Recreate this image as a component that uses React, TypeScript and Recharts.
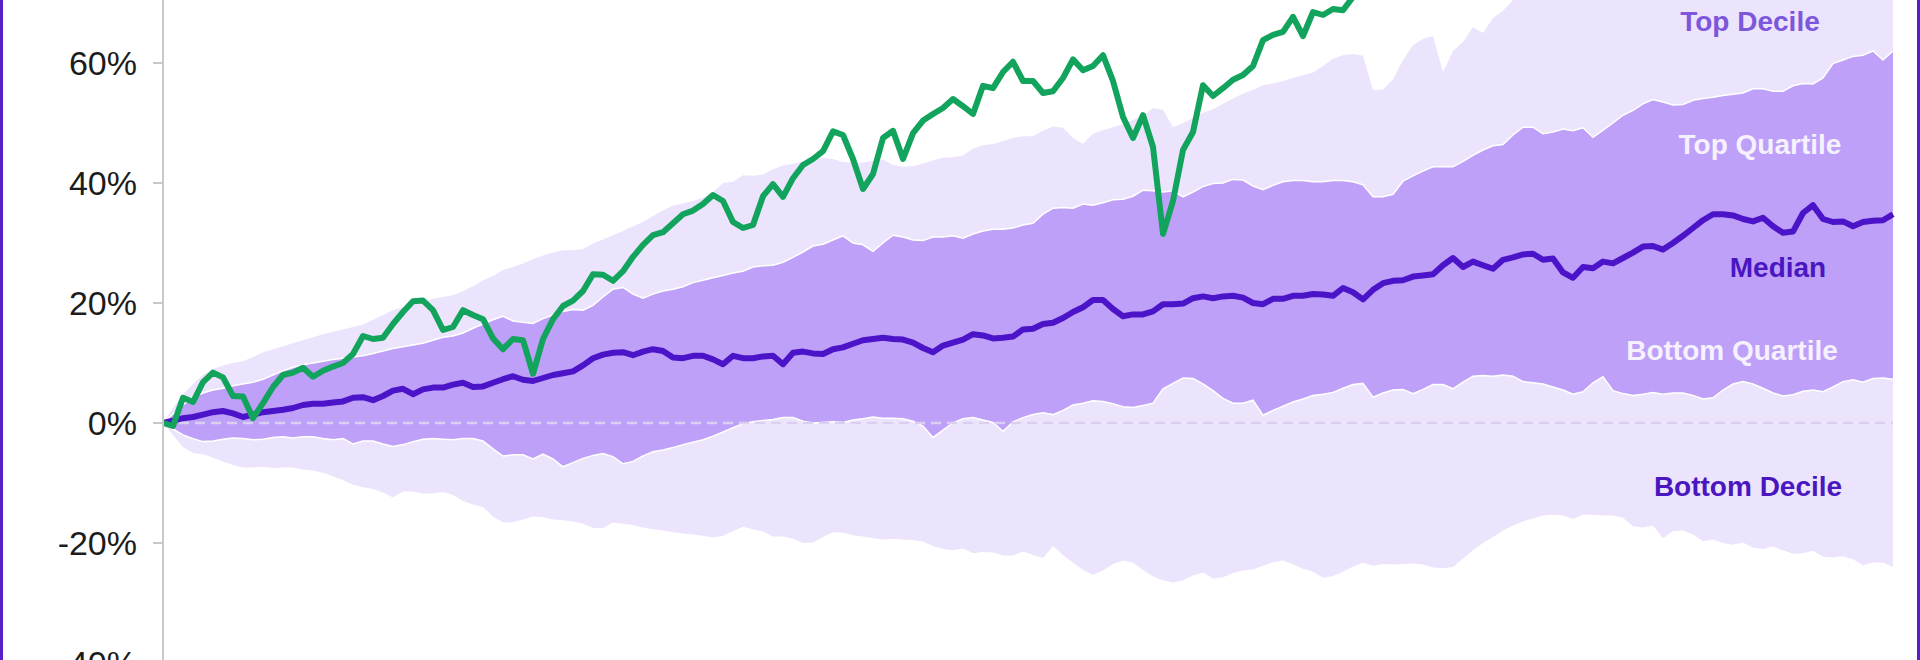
import { ComposedChart, Area, Line, XAxis, YAxis, ReferenceLine, ReferenceDot } from 'recharts';

// cumulative return (%), one sample per step, 174 steps across the period
const median = [
  0, 0.4, 0.8, 1.0, 1.4, 1.8, 2.0, 1.6, 1.0, 1.4,
  1.8, 2.0, 2.2, 2.5, 3.0, 3.2, 3.2, 3.4, 3.6, 4.2,
  4.3, 3.8, 4.5, 5.4, 5.7, 4.8, 5.6, 5.9, 5.9, 6.4,
  6.7, 6.0, 6.1, 6.7, 7.3, 7.8, 7.2, 7.0, 7.5, 8.0,
  8.3, 8.6, 9.6, 10.8, 11.4, 11.7, 11.8, 11.3, 11.9, 12.3,
  12.0, 10.9, 10.8, 11.2, 11.2, 10.6, 9.8, 11.2, 10.8, 10.8,
  11.1, 11.2, 9.8, 11.7, 11.9, 11.6, 11.5, 12.3, 12.6, 13.2,
  13.8, 14.0, 14.2, 14.0, 13.9, 13.4, 12.5, 11.8, 12.9, 13.4,
  13.9, 14.8, 14.6, 14.1, 14.2, 14.4, 15.6, 15.7, 16.5, 16.7,
  17.5, 18.5, 19.3, 20.5, 20.5, 19.0, 17.8, 18.1, 18.1, 18.6,
  19.8, 19.8, 19.9, 20.8, 21.1, 20.8, 21.1, 21.2, 20.9, 20.0,
  19.8, 20.7, 20.7, 21.2, 21.2, 21.5, 21.4, 21.2, 22.5, 21.8,
  20.6, 22.2, 23.3, 23.7, 23.8, 24.4, 24.6, 24.8, 26.3, 27.5,
  26.0, 26.9, 26.3, 25.7, 27.2, 27.6, 28.1, 28.2, 27.2, 27.4,
  25.1, 24.2, 26.0, 25.8, 26.9, 26.6, 27.5, 28.4, 29.4, 29.5,
  28.9, 30.0, 31.2, 32.5, 33.8, 34.8, 34.8, 34.6, 34.0, 33.6,
  34.2, 32.8, 31.7, 31.9, 35.0, 36.3, 34.0, 33.5, 33.6, 32.8,
  33.5, 33.7, 33.8, 34.8,
];

// benchmark, leaves the top of the frame after step 122
const market = [
  0, -0.5, 4.2, 3.5, 6.8, 8.4, 7.6, 4.5, 4.4, 0.8,
  3.3, 6.0, 8.0, 8.4, 9.2, 7.7, 8.7, 9.4, 10.0, 11.5,
  14.5, 14.0, 14.2, 16.5, 18.5, 20.3, 20.4, 18.8, 15.5, 16.0,
  18.8, 18.0, 17.3, 14.1, 12.3, 14.0, 13.8, 8.2, 14.0, 17.3,
  19.5, 20.4, 22.0, 24.8, 24.7, 23.7, 25.3, 27.7, 29.7, 31.3,
  31.8, 33.3, 34.8, 35.4, 36.5, 38.0, 37.0, 33.5, 32.5, 33.0,
  37.8, 39.8, 37.7, 40.8, 43.0, 44.0, 45.3, 48.6, 48.0, 44.0,
  39.0, 41.5, 47.5, 48.7, 44.0, 48.3, 50.4, 51.5, 52.5, 54.0,
  52.8, 51.5, 56.2, 55.8, 58.5, 60.2, 57.0, 57.0, 55.0, 55.3,
  57.5, 60.6, 58.8, 59.5, 61.3, 57.0, 51.0, 47.5, 51.3, 46.0,
  31.5, 37.0, 45.5, 48.5, 56.3, 54.5, 55.8, 57.2, 58.0, 59.5,
  63.8, 64.7, 65.2, 67.7, 64.5, 68.5, 68.0, 69.0, 68.8, 71.0,
  72.5, 73.5, 74.5,
];

const topQuartile = [
  0, 1.5, 3.0, 4.3, 5.0, 5.5, 5.8, 6.2, 6.5, 6.8,
  7.3, 8.0, 8.7, 9.3, 9.7, 10.0, 10.3, 10.6, 10.8, 11.0,
  11.2, 11.6, 12.0, 12.4, 12.7, 13.0, 13.3, 13.8, 14.3, 14.5,
  15.0, 15.8, 16.5, 17.2, 17.8, 17.0, 16.8, 16.6, 17.4, 18.0,
  18.6, 18.9, 18.8, 19.6, 21.0, 22.3, 22.6, 21.5, 20.8, 21.5,
  22.0, 22.3, 22.7, 23.4, 23.8, 24.2, 24.6, 25.0, 25.3, 26.0,
  26.2, 26.3, 26.8, 27.6, 28.5, 29.5, 29.8, 30.5, 31.2, 30.0,
  29.7, 28.6, 30.0, 31.3, 31.0, 30.5, 30.4, 31.0, 31.0, 31.2,
  30.8, 31.5, 32.0, 32.3, 32.3, 32.5, 33.0, 33.3, 34.8, 35.8,
  35.9, 35.8, 36.5, 36.3, 36.7, 37.2, 37.3, 37.8, 38.8, 38.7,
  38.5, 38.7, 37.7, 38.5, 39.4, 39.9, 40.0, 40.6, 40.5, 39.5,
  38.9, 39.6, 40.2, 40.4, 40.4, 40.2, 40.2, 40.4, 40.4, 40.2,
  39.7, 37.7, 37.7, 38.1, 40.3, 41.2, 42.0, 42.7, 42.7, 42.7,
  43.6, 44.6, 45.5, 46.2, 46.4, 48.0, 49.3, 49.3, 48.2, 48.5,
  49.0, 48.7, 49.2, 47.6, 48.8, 50.0, 51.3, 52.1, 53.2, 53.9,
  53.5, 53.0, 53.1, 53.8, 54.1, 54.3, 54.6, 54.8, 55.0, 55.7,
  55.7, 55.3, 55.3, 56.2, 56.6, 56.5, 57.5, 59.9, 60.5, 61.1,
  61.3, 62.0, 60.5, 62.0,
];

const bottomQuartile = [
  0, -1.0, -2.0, -2.6, -3.1, -3.0, -2.7, -2.5, -2.6, -2.8,
  -2.7, -2.4, -2.3, -2.5, -2.3, -2.3, -2.6, -2.8, -2.6, -3.5,
  -3.0, -3.0, -3.5, -3.9, -3.6, -3.1, -2.7, -2.6, -2.7, -2.8,
  -2.6, -2.6, -3.0, -4.3, -5.5, -5.3, -5.3, -6.0, -5.2, -6.0,
  -7.3, -6.6, -5.9, -5.4, -5.1, -5.6, -6.8, -6.4, -5.5, -4.8,
  -4.5, -4.1, -3.6, -3.2, -2.8, -2.2, -1.5, -0.8, -0.1, 0.2,
  0.4, 0.6, 0.9, 0.9, 0.3, 0.0, 0.1, 0.2, 0.1, 0.5,
  0.7, 1.0, 0.8, 0.8, 0.7, 0.3, -0.5, -2.4, -1.2, 0.0,
  0.7, 0.9, 0.5, 0.1, -1.4, 0.2, 0.9, 1.4, 1.7, 1.4,
  2.1, 3.0, 3.3, 3.7, 3.6, 3.2, 2.7, 2.6, 2.9, 3.3,
  5.7, 6.6, 7.5, 7.4, 6.5, 5.4, 4.1, 3.3, 3.3, 3.8,
  1.3, 2.1, 2.8, 3.5, 4.0, 4.6, 4.8, 5.1, 5.8, 6.4,
  6.6, 4.3, 5.0, 5.5, 5.6, 4.9, 5.6, 6.4, 6.4, 5.7,
  6.8, 7.8, 7.9, 7.8, 8.0, 7.8, 6.9, 6.7, 6.5, 6.0,
  5.5, 4.8, 5.2, 6.7, 7.7, 5.4, 4.9, 4.6, 4.8, 5.1,
  4.8, 5.0, 5.0, 4.6, 4.0, 4.2, 5.5, 6.5, 6.9, 6.5,
  5.8, 5.0, 4.5, 4.7, 5.3, 5.5, 5.2, 6.0, 6.9, 7.2,
  6.8, 7.4, 7.5, 7.3,
];

const topDecile = [
  0, 2.5, 4.8, 6.5, 8.0, 9.0, 9.6, 10.0, 10.3, 11.0,
  11.8, 12.3, 12.8, 13.3, 13.8, 14.3, 14.8, 15.2, 15.6, 16.0,
  16.4, 17.2, 18.0, 18.8, 19.3, 19.8, 20.3, 20.7, 21.0, 21.3,
  22.0, 22.8, 23.8, 24.5, 25.5, 26.0, 26.6, 27.3, 27.9, 28.4,
  28.8, 28.8, 29.0, 29.9, 30.6, 31.3, 32.0, 32.8, 33.5, 34.5,
  35.4, 36.2, 36.6, 37.0, 37.6, 38.5, 40.0, 40.2, 41.3, 41.2,
  41.4, 42.3, 42.9, 43.2, 43.6, 44.0, 44.2, 44.0, 43.5, 43.4,
  43.4, 43.7, 43.9, 43.0, 42.7, 42.8, 43.2, 43.8, 44.2, 44.3,
  44.6, 45.7, 46.3, 46.5, 47.0, 47.5, 47.8, 47.8, 48.7, 49.4,
  49.2, 47.5, 46.5, 48.2, 48.8, 49.3, 49.8, 50.5, 51.2, 52.5,
  52.2, 49.3, 50.0, 50.8, 51.7, 52.3, 53.2, 54.1, 54.9, 55.5,
  56.3, 56.6, 57.0, 57.5, 58.0, 58.4, 59.5, 60.7, 61.3, 61.5,
  61.2, 55.5, 55.6, 57.3, 60.5, 63.0, 64.0, 64.5, 58.5, 62.0,
  63.5, 66.0, 65.0, 67.5, 68.7, 70.5, 71.5, 72.0, 72.3, 72.5,
  72.8, 73.0, 72.5, 72.0, 71.2, 70.8, 71.5, 73.0, 73.5, 74.0,
  74.5, 74.8, 75.0, 75.5, 75.8, 76.0, 76.2, 76.5, 76.8, 77.0,
  77.2, 77.4, 77.5, 77.6, 77.8, 78.0, 78.0, 78.2, 78.4, 78.6,
  78.8, 79.0, 79.0, 79.2,
];

const bottomDecile = [
  0, -2.0, -4.0, -5.0, -5.2, -5.8, -6.4, -7.0, -7.4, -7.4,
  -7.3, -7.5, -7.4, -7.4, -7.8, -7.9, -8.3, -8.9, -9.5, -10.3,
  -10.7, -11.0, -11.6, -12.4, -11.4, -11.4, -11.8, -11.7, -11.5, -12.0,
  -13.0, -13.6, -14.0, -15.6, -16.6, -16.5, -16.1, -15.6, -15.7, -16.1,
  -16.2, -16.4, -16.8, -17.5, -17.5, -16.6, -16.8, -17.0, -17.4, -17.7,
  -17.9, -18.2, -18.4, -18.6, -18.8, -19.1, -18.8, -18.0, -17.3, -17.7,
  -18.1, -18.9, -18.9, -19.3, -20.0, -19.9, -19.0, -18.2, -18.3, -18.7,
  -18.9, -19.2, -19.4, -19.3, -19.4, -19.5, -19.8, -20.5, -21.0, -21.2,
  -20.9, -21.7, -21.5, -21.6, -22.1, -22.1, -21.4, -22.0, -22.5, -20.5,
  -22.0, -23.3, -24.5, -25.3, -24.6, -23.5, -22.9, -23.3, -24.5, -25.6,
  -26.2, -26.6, -26.2, -25.4, -24.9, -25.9, -25.7, -25.0, -24.6, -24.4,
  -23.8, -23.2, -22.9, -23.6, -24.3, -24.8, -25.8, -25.5, -24.8, -23.9,
  -23.3, -23.8, -23.5, -23.6, -23.5, -23.4, -23.6, -24.1, -24.2, -24.0,
  -22.6, -21.2, -20.0, -19.0, -17.9, -17.1, -16.4, -15.9, -15.4, -15.3,
  -15.4, -16.0, -15.3, -15.3, -15.4, -15.4, -15.8, -17.2, -17.4, -17.1,
  -19.2, -18.0, -17.9, -18.6, -19.7, -19.4, -20.0, -20.3, -19.9, -20.8,
  -21.0, -20.6, -21.2, -21.8, -21.7, -21.3, -22.3, -22.4, -22.2, -22.7,
  -23.7, -23.2, -23.3, -24.0,
];

const yTicks = [-40, -20, 0, 20, 40, 60];

// band names, placed near the right end of the period
const bandLabels = [
  { name: 'Top Decile', at: 158.7, value: 67, color: '#7c57dc' },
  { name: 'Top Quartile', at: 159.7, value: 46.5, color: '#f6f1ff' },
  { name: 'Median', at: 161.5, value: 26, color: '#4a16c0' },
  { name: 'Bottom Quartile', at: 156.9, value: 12.2, color: '#f6f1ff' },
  { name: 'Bottom Decile', at: 158.5, value: -10.5, color: '#4a16c0' },
];

const data = median.map((m, i) => ({
  i,
  outer: [bottomDecile[i], topDecile[i]],
  inner: [bottomQuartile[i], topQuartile[i]],
  median: m,
  market: market[i] ?? null,
}));

const font = '"Liberation Sans", Arial, Helvetica, sans-serif';

export default function App() {
  return (
    <div
      style={{
        position: 'fixed', left: 0, top: 0, width: 1920, height: 660,
        overflow: 'hidden', background: '#ffffff', fontFamily: font,
      }}
    >
      <div style={{ position: 'absolute', left: 0, top: -67 }}>
        <ComposedChart width={1920} height={740} data={data} margin={{ top: 10, right: 27, bottom: 10, left: 0 }}>
          <XAxis dataKey="i" type="number" domain={[0, 173]} hide />
          <YAxis
            type="number"
            domain={[-40, 80]}
            ticks={yTicks}
            allowDataOverflow
            interval={0}
            width={163}
            tickSize={10}
            tickMargin={16}
            tickFormatter={(v: number) => `${v}%`}
            axisLine={{ stroke: '#c9c9c9', strokeWidth: 2 }}
            tickLine={{ stroke: '#c9c9c9', strokeWidth: 2 }}
            tick={{ fill: '#1c1c1c', fontSize: 34, fontFamily: font }}
          />
          <Area
            dataKey="outer"
            type="linear"
            fill="#ece4fc"
            fillOpacity={1}
            stroke="none"
            activeDot={false}
            isAnimationActive={false}
          />
          <Area
            dataKey="inner"
            type="linear"
            fill="#bea0f8"
            fillOpacity={1}
            stroke="#ffffff"
            strokeWidth={1.5}
            activeDot={false}
            isAnimationActive={false}
          />
          <ReferenceLine y={0} stroke="#dacff0" strokeWidth={2.5} strokeDasharray="10 6" />
          <Line
            dataKey="median"
            type="linear"
            stroke="#4c14c8"
            strokeWidth={6}
            strokeLinejoin="round"
            dot={false}
            activeDot={false}
            isAnimationActive={false}
          />
          <Line
            dataKey="market"
            type="linear"
            stroke="#12a35c"
            strokeWidth={6}
            strokeLinejoin="round"
            dot={false}
            activeDot={false}
            isAnimationActive={false}
          />
          {bandLabels.map((b) => (
            <ReferenceDot
              key={b.name}
              x={b.at}
              y={b.value}
              r={0}
              fill="none"
              stroke="none"
              label={{
                value: b.name,
                position: 'center',
                fill: b.color,
                fontSize: 28,
                fontWeight: 700,
                fontFamily: font,
              }}
            />
          ))}
        </ComposedChart>
      </div>
      <div style={{ position: 'absolute', left: 0, top: 0, width: 3, height: 660, background: '#5a1ec8' }} />
      <div style={{ position: 'absolute', right: 0, top: 0, width: 3, height: 660, background: '#5a1ec8' }} />
    </div>
  );
}
